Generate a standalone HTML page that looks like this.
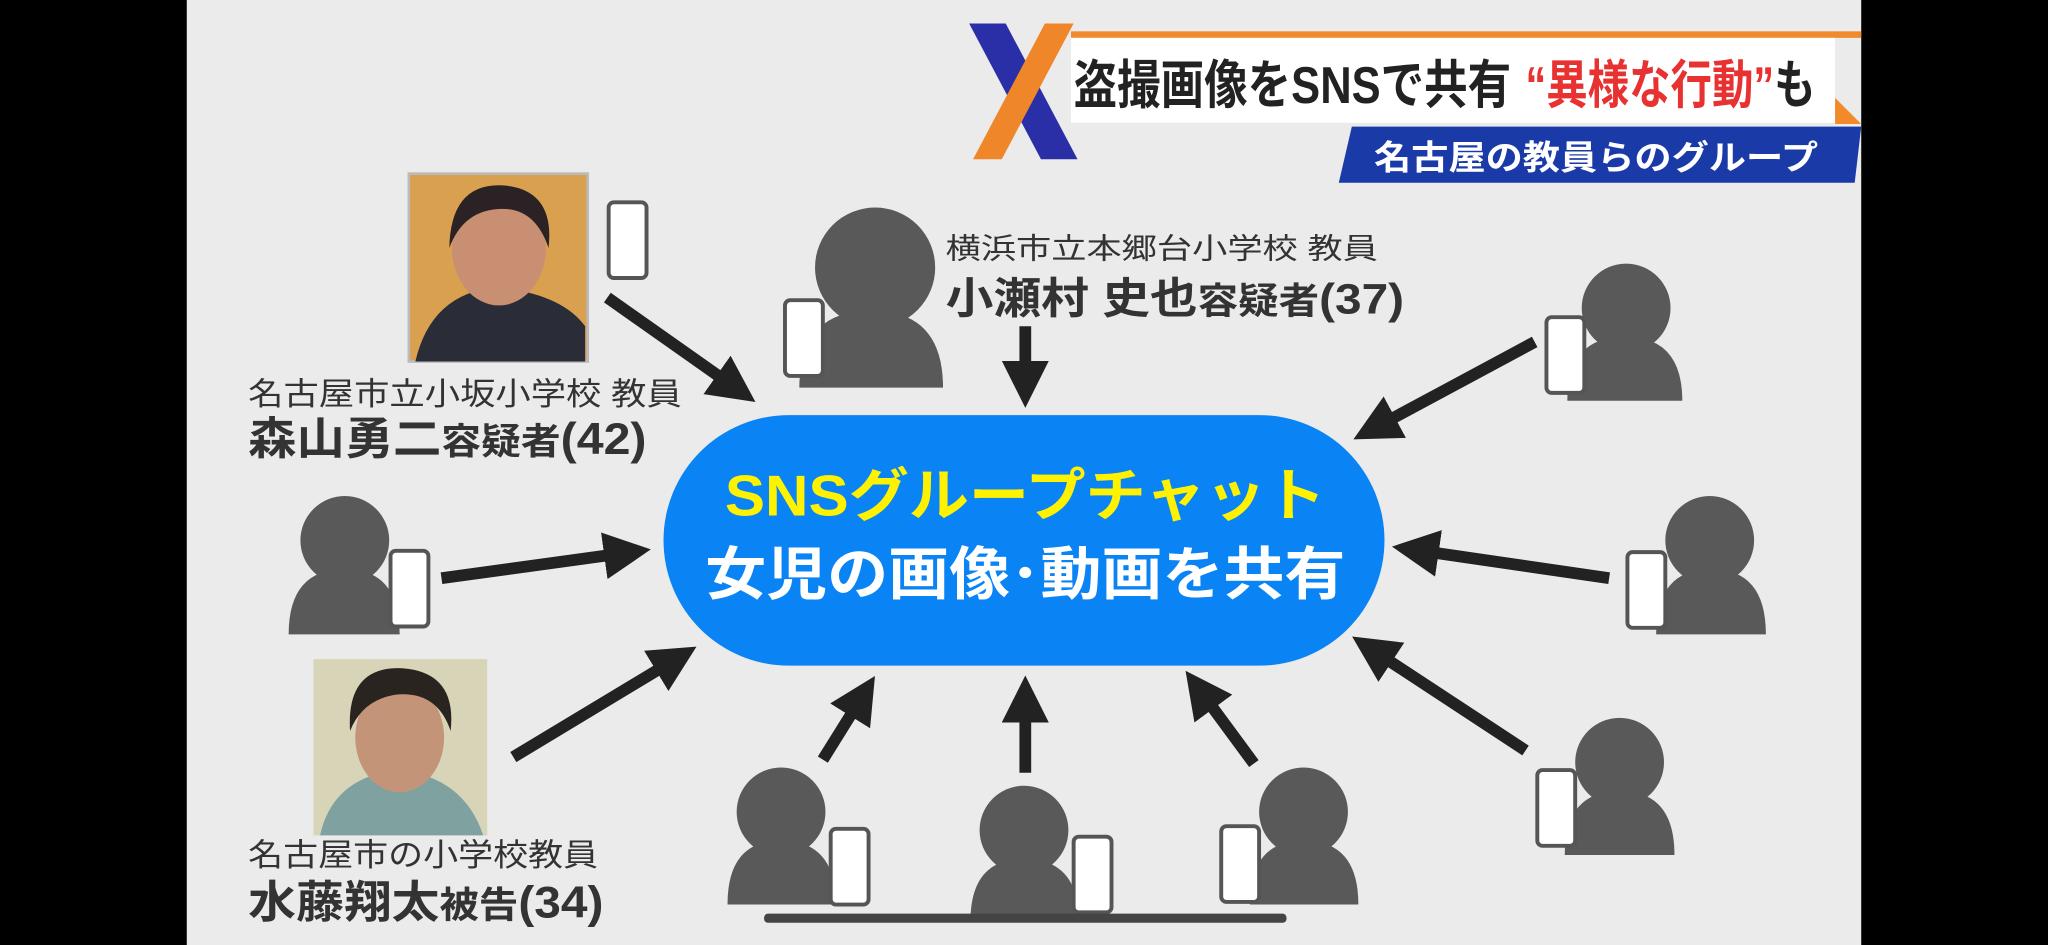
<!DOCTYPE html>
<html><head><meta charset="utf-8"><style>
html,body{margin:0;padding:0;background:#000;}
svg{display:block;}
text{font-family:"Liberation Sans","Noto Sans CJK JP",sans-serif;}
</style></head><body>
<svg width="2048" height="945" viewBox="0 0 1568 724" preserveAspectRatio="none" xmlns="http://www.w3.org/2000/svg">
<defs>
<marker id="ah" markerWidth="4" markerHeight="4" refX="1.5" refY="2" orient="auto" markerUnits="strokeWidth">
<path d="M0,0 L4,2 L0,4 z" fill="#222"/></marker>
<g id="ph"><rect x="0" y="0" width="29" height="58" rx="4" fill="#fff" stroke="#555" stroke-width="3"/></g>
</defs>
<rect x="0" y="0" width="1568" height="724" fill="#000"/>
<rect x="143" y="0" width="1282" height="724" fill="#ebebeb"/>
<!-- header -->
<rect x="820" y="24" width="605" height="5" fill="#f08a2a"/>
<rect x="820" y="29" width="585" height="65" fill="#fff"/>
<polygon points="1405,75 1425,95 1405,95" fill="#f08a2a"/>
<polygon points="1035,97 1425,97 1420,140 1025,140" fill="#1a3aa8"/>
<polygon points="742,18 770,18 825,122 797,122" fill="#2a2fa8"/>
<polygon points="800,18 822,18 767,122 745,122" fill="#f0862a"/>
<text x="822" y="79" font-size="40" font-weight="bold" fill="#222" textLength="335" lengthAdjust="spacingAndGlyphs">盗撮画像をSNSで共有</text>
<text x="1168" y="79" font-size="40" font-weight="bold" fill="#e83232" textLength="222" lengthAdjust="spacingAndGlyphs">“異様な行動”<tspan fill="#222">も</tspan></text>
<text x="1052" y="130" font-size="26" font-weight="bold" fill="#fff" textLength="340" lengthAdjust="spacingAndGlyphs">名古屋の教員らのグループ</text>
<!-- photos -->
<rect x="313" y="133" width="137" height="144" fill="#d9a14f"/>
<rect x="313" y="133" width="137" height="144" fill="none" stroke="#bbb" stroke-width="2"/>
<path d="M318,277 Q330,225 380,220 Q430,225 448,250 L448,277 z" fill="#2a2d38"/>
<ellipse cx="382" cy="190" rx="36" ry="44" fill="#c98f72"/>
<path d="M344,190 Q345,140 385,142 Q425,145 420,190 Q410,160 385,160 Q355,160 344,190z" fill="#2a2224"/>
<rect x="240" y="505" width="133" height="135" fill="#d8d4b8"/>
<path d="M245,640 Q255,595 305,590 Q355,595 370,640 z" fill="#7fa2a0"/>
<ellipse cx="306" cy="565" rx="34" ry="42" fill="#c49478"/>
<path d="M268,560 Q265,510 308,512 Q350,515 345,560 Q335,530 305,532 Q278,535 268,560z" fill="#2a2420"/>
<!-- labels -->
<g fill="#333">
<text x="190" y="310" font-size="24" textLength="332" lengthAdjust="spacingAndGlyphs">名古屋市立小坂小学校  教員</text>
<text x="190" y="348" font-size="34" font-weight="bold" textLength="305" lengthAdjust="spacingAndGlyphs">森山勇二<tspan font-size="28">容疑者</tspan>(42)</text>
<text x="724" y="198" font-size="22" textLength="331" lengthAdjust="spacingAndGlyphs">横浜市立本郷台小学校  教員</text>
<text x="724" y="240" font-size="33" font-weight="bold" textLength="351" lengthAdjust="spacingAndGlyphs">小瀬村 史也<tspan font-size="28">容疑者</tspan>(37)</text>
<text x="190" y="663" font-size="24" textLength="268" lengthAdjust="spacingAndGlyphs">名古屋市の小学校教員</text>
<text x="190" y="703" font-size="34" font-weight="bold" textLength="272" lengthAdjust="spacingAndGlyphs">水藤翔太<tspan font-size="28">被告</tspan>(34)</text>
</g>
<!-- pill -->
<rect x="508" y="318" width="552" height="192" rx="96" fill="#0a84f5"/>
<text x="555" y="395" font-size="44" font-weight="bold" fill="#fff200" textLength="460" lengthAdjust="spacingAndGlyphs">SNSグループチャット</text>
<text x="540" y="455" font-size="44" font-weight="bold" fill="#fff" textLength="490" lengthAdjust="spacingAndGlyphs">女児の画像･動画を共有</text>
<!-- people -->
<g fill="#595959">
<circle cx="670" cy="205" r="46"/><path d="M612,297 Q612,238 667,238 Q722,238 722,297 z"/>
<circle cx="1245" cy="236" r="34"/><path d="M1200,307 Q1200,258 1244,258 Q1288,258 1288,307 z"/>
<circle cx="264" cy="414" r="34"/><path d="M221,486 Q221,436 264,436 Q306,436 306,486 z"/>
<circle cx="1309" cy="414" r="34"/><path d="M1268,486 Q1268,436 1310,436 Q1352,436 1352,486 z"/>
<circle cx="1240" cy="584" r="34"/><path d="M1198,655 Q1198,606 1240,606 Q1282,606 1282,655 z"/>
<circle cx="598" cy="622" r="34"/><path d="M557,693 Q557,644 598,644 Q640,644 640,693 z"/>
<circle cx="784" cy="636" r="34"/><path d="M743,706 Q743,658 784,658 Q826,658 826,706 z"/>
<circle cx="998" cy="622" r="34"/><path d="M957,693 Q957,644 998,644 Q1040,644 1040,693 z"/>
</g>
<use href="#ph" x="466" y="155"/>
<use href="#ph" x="601" y="230"/>
<use href="#ph" x="1184" y="243"/>
<use href="#ph" x="299" y="422"/>
<use href="#ph" x="1246" y="423"/>
<use href="#ph" x="1177" y="590"/>
<use href="#ph" x="636" y="635"/>
<use href="#ph" x="822" y="641"/>
<use href="#ph" x="935" y="633"/>
<rect x="585" y="700" width="400" height="7" rx="3" fill="#444"/>
<!-- arrows -->
<g stroke="#222" stroke-width="9" marker-end="url(#ah)">
<line x1="465" y1="228" x2="560" y2="295"/>
<line x1="785" y1="250" x2="785" y2="290"/>
<line x1="1175" y1="262" x2="1056" y2="326"/>
<line x1="338" y1="443" x2="476" y2="424"/>
<line x1="1232" y1="443" x2="1088" y2="422"/>
<line x1="393" y1="580" x2="514" y2="507"/>
<line x1="630" y1="582" x2="658" y2="537"/>
<line x1="785" y1="592" x2="785" y2="540"/>
<line x1="960" y1="585" x2="921" y2="532"/>
<line x1="1168" y1="575" x2="1054" y2="500"/>
</g>
</svg>
</body></html>
